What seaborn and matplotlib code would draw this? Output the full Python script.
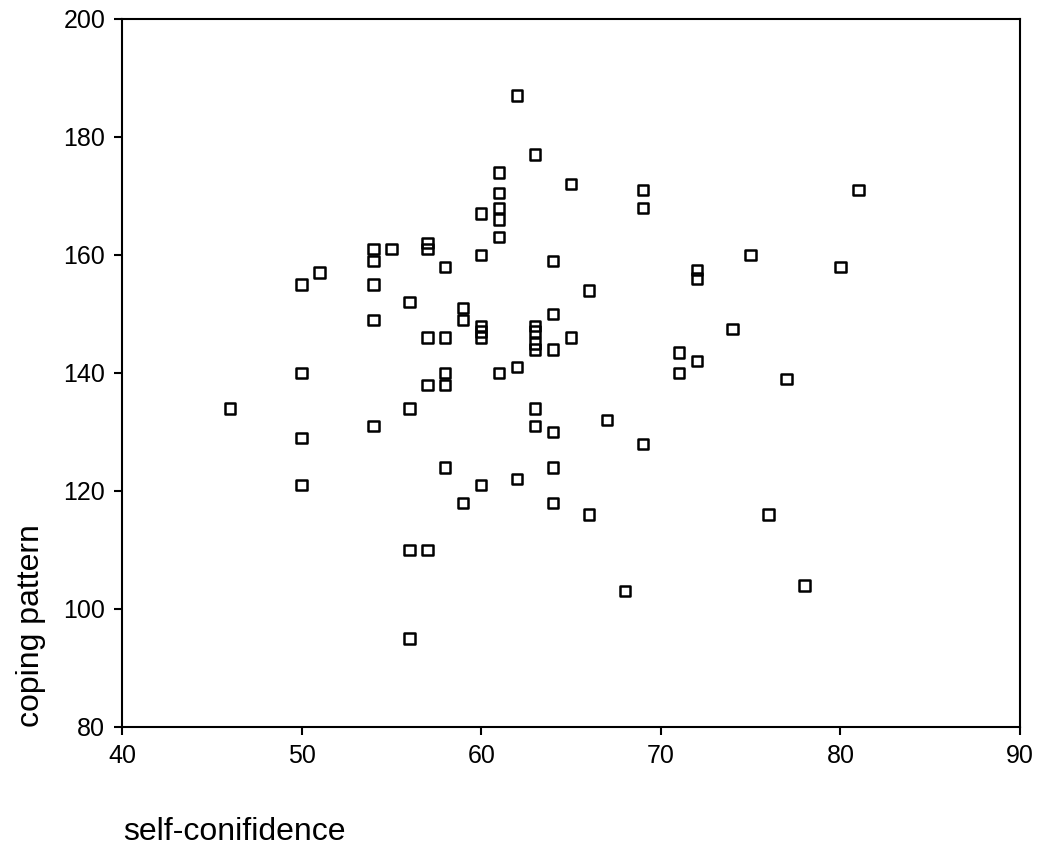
import matplotlib
matplotlib.use("Agg")
import matplotlib.pyplot as plt
import seaborn as sns
import pandas as pd

self_confidence = [46,
                   50, 50, 50, 50,
                   51,
                   54, 54, 54, 54, 54,
                   55,
                   56, 56, 56, 56,
                   57, 57, 57, 57, 57,
                   58, 58, 58, 58, 58,
                   59, 59, 59,
                   60, 60, 60, 60, 60, 60,
                   61, 61, 61, 61, 61, 61,
                   62, 62, 62,
                   63, 63, 63, 63, 63, 63, 63,
                   64, 64, 64, 64, 64, 64,
                   65, 65,
                   66, 66,
                   67,
                   68,
                   69, 69, 69,
                   71, 71,
                   72, 72, 72,
                   74, 75, 76, 77, 78, 80, 81]
coping_pattern = [134,
                  155, 140, 129, 121,
                  157,
                  161, 159, 155, 149, 131,
                  161,
                  152, 134, 110, 95,
                  162, 161, 146, 138, 110,
                  158, 146, 140, 138, 124,
                  151, 149, 118,
                  167, 160, 148, 147, 146, 121,
                  174, 170.5, 168, 166, 163, 140,
                  187, 141, 122,
                  177, 148, 147, 145, 144, 134, 131,
                  159, 150, 144, 130, 124, 118,
                  172, 146,
                  154, 116,
                  132,
                  103,
                  171, 168, 128,
                  143.5, 140,
                  157.5, 156, 142,
                  147.5, 160, 116, 139, 104, 158, 171]

df = pd.DataFrame({"self-conifidence": self_confidence,
                   "coping pattern": coping_pattern})

sns.set_style("white")
plt.rcParams['font.family'] = ['Liberation Sans', 'DejaVu Sans']

fig = plt.figure(figsize=(10.4, 8.47), dpi=100)
ax = fig.add_axes([0.1173, 0.1417, 0.8635, 0.8359])

sns.scatterplot(data=df, x="self-conifidence", y="coping pattern", ax=ax,
                marker="s", s=56, facecolor="none", edgecolor="black",
                linewidth=1.8, legend=False)

ax.set_xlim(40, 90)
ax.set_ylim(80, 200)
ax.set_xticks([40, 50, 60, 70, 80, 90])
ax.set_yticks([80, 100, 120, 140, 160, 180, 200])
ax.tick_params(axis='both', direction='out', length=6, width=1.5,
               labelsize=18, color='black', labelcolor='black',
               bottom=True, left=True, pad=6)
for sp in ax.spines.values():
    sp.set_visible(True)
    sp.set_color('black')
    sp.set_linewidth(1.5)

ax.set_xlabel("")
ax.set_ylabel("")
fig.text(0.118, 0.008, "self-conifidence", fontsize=23, ha='left', va='baseline', color='black')
fig.text(0.030, 0.1417, "coping pattern", fontsize=23, rotation=90, ha='center', va='bottom', color='black')

fig.savefig("out.png", dpi=100, facecolor='white')
